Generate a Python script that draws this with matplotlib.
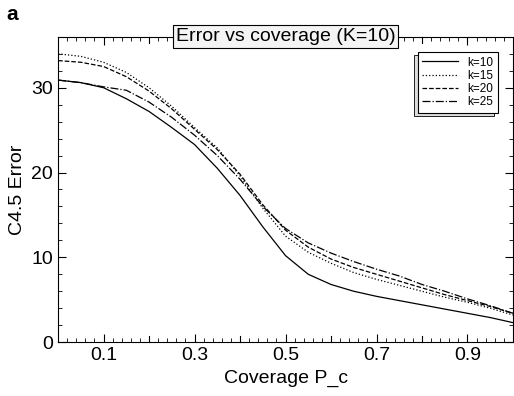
import numpy as np
import matplotlib
matplotlib.use('Agg')
import matplotlib.pyplot as plt
from matplotlib.ticker import MultipleLocator, FixedLocator

plt.rcParams['font.family'] = ['Liberation Sans', 'DejaVu Sans']

## the data
coverage = [0.0, 0.05, 0.1, 0.15, 0.2, 0.25, 0.3, 0.35, 0.4, 0.45, 0.5,
            0.55, 0.6, 0.65, 0.7, 0.75, 0.8, 0.85, 0.9, 0.95, 1.0]
err_k10 = [30.9, 30.6, 30.0, 28.7, 27.2, 25.3, 23.3, 20.5, 17.3, 13.6, 10.2,
           8.0, 6.8, 6.0, 5.4, 4.9, 4.4, 3.9, 3.4, 2.9, 2.3]
err_k15 = [34.0, 33.7, 33.0, 31.8, 30.0, 27.8, 25.3, 22.9, 19.6, 15.8, 12.5,
           10.6, 9.3, 8.2, 7.4, 6.7, 6.0, 5.3, 4.7, 4.0, 3.2]
err_k20 = [33.2, 33.0, 32.5, 31.3, 29.6, 27.5, 25.1, 22.7, 19.8, 16.2, 13.2,
           11.2, 9.8, 8.8, 8.0, 7.2, 6.4, 5.6, 4.9, 4.2, 3.4]
err_k25 = [30.9, 30.6, 30.1, 29.7, 28.3, 26.5, 24.4, 22.0, 19.2, 16.0, 13.4,
           11.7, 10.5, 9.5, 8.6, 7.8, 6.8, 6.0, 5.1, 4.3, 3.4]
labels = ['k=10', 'k=15', 'k=20', 'k=25']
styles = ['-', ':', '--', '-.']

fig = plt.figure(figsize=(5.14, 3.96), dpi=100)
ax = fig.add_axes([0.113, 0.136, 0.885, 0.771])

for ys, lab, ls in zip([err_k10, err_k15, err_k20, err_k25], labels, styles):
    ax.plot(coverage, ys, color='black', linestyle=ls, linewidth=0.9, label=lab)

# axes and ticks
ax.set_xlim(0, 1.0)
ax.set_ylim(0, 36)
ax.xaxis.set_major_locator(FixedLocator([0.1, 0.3, 0.5, 0.7, 0.9]))
ax.xaxis.set_minor_locator(MultipleLocator(0.02))
ax.yaxis.set_major_locator(MultipleLocator(10))
ax.yaxis.set_minor_locator(MultipleLocator(2))
ax.tick_params(which='both', direction='in', top=True, right=True, labelsize=14)
ax.tick_params(which='major', length=6)
ax.tick_params(which='minor', length=3)
# longer ticks at the even tenths too
for xv in [0.2, 0.4, 0.6, 0.8]:
    ax.plot([xv, xv], [0, 0.7], color='black', lw=0.8, clip_on=False)
    ax.plot([xv, xv], [36, 35.3], color='black', lw=0.8, clip_on=False)

ax.set_xlabel('Coverage P_c', fontsize=14)
ax.set_ylabel('C4.5 Error', fontsize=14)

ax.text(0.5, 1.0, 'Error vs coverage (K=10)', transform=ax.transAxes,
        ha='center', va='center', fontsize=14,
        bbox=dict(boxstyle='square,pad=0.15', fc='#f4f4f4', ec='black', lw=0.8))

leg = ax.legend(loc='upper right', bbox_to_anchor=(0.98, 0.97), fontsize=8.5,
                handlelength=3.0, labelspacing=0.1, borderpad=0.4,
                fancybox=False, framealpha=1, edgecolor='black',
                shadow={'ox': -2.5, 'oy': -2.5, 'facecolor': '#dddddd',
                        'edgecolor': 'black', 'alpha': 1, 'linewidth': 0.6})
leg.get_frame().set_linewidth(0.8)

fig.text(0.012, 0.988, 'a', fontsize=15, fontweight='bold', ha='left', va='top')

fig.savefig('out.png', dpi=100)
